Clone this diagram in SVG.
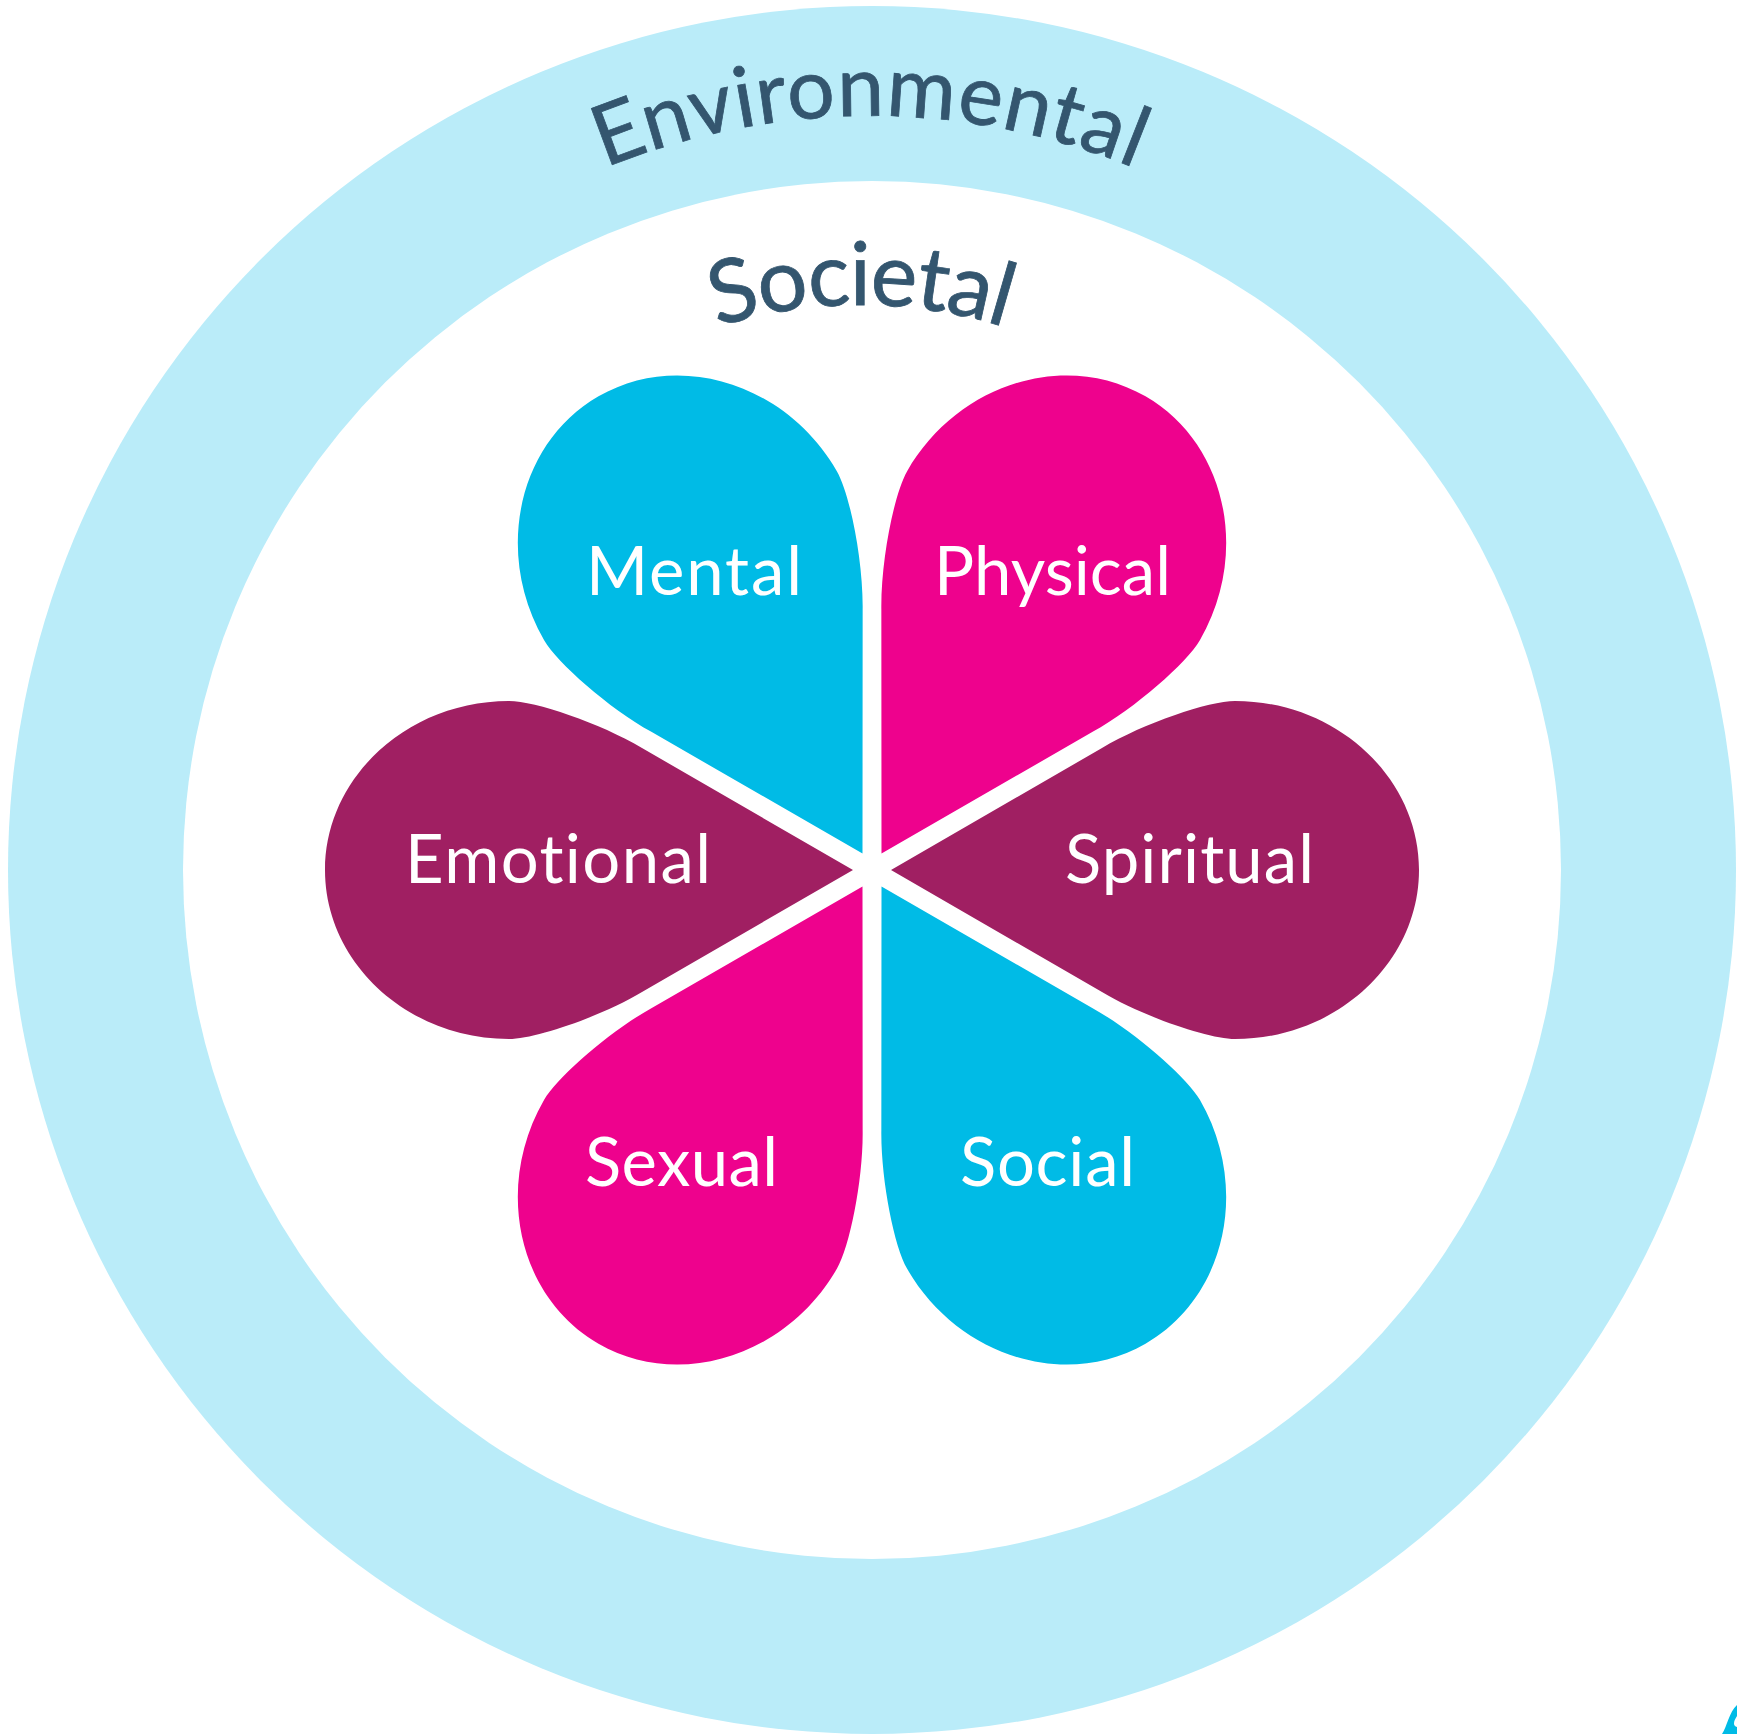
<svg xmlns="http://www.w3.org/2000/svg" width="1737" height="1734" viewBox="0 0 1737 1734">
<style>
text{font-variant-ligatures:none}
.lbl{font-family:Lato,"Liberation Sans",sans-serif;font-size:67px;fill:#fff}
.arc{font-family:Lato,"Liberation Sans",sans-serif;font-size:84px;fill:#34566f;stroke:#34566f;stroke-width:.8px}
.blue{fill:#00bbe6}.pink{fill:#ee028d}.plum{fill:#a01f62}
</style>
<defs>
<path id="petal" d="M853 870L642 748C600 723 535 701 509 701C408 701 325 777 325 870C325 963 408 1039 509 1039C535 1039 600 1017 642 992Z"/>
<path id="envArc" d="M170 816A700 700 0 0 1 1570 816"/>
<path id="socArc" d="M381 785A480 480 0 0 1 1341 785"/>
</defs>
<rect width="1737" height="1734" fill="#fff"/>
<g id="environmental">
<circle cx="872" cy="870" r="864" fill="#baecf9"/>
<circle cx="872" cy="870" r="689" fill="#fff"/>
<text class="arc"><textPath href="#envArc" startOffset="50%" text-anchor="middle" textLength="543" lengthAdjust="spacing">Environmental</textPath></text>
</g>
<g id="societal">
<text class="arc" style="font-size:88px"><textPath href="#socArc" startOffset="50%" text-anchor="middle" textLength="292" lengthAdjust="spacing">Societal</textPath></text>
</g>
<g id="emotional"><use href="#petal" class="plum"/><text class="lbl" x="405" y="883" textLength="306" lengthAdjust="spacing">Emotional</text></g>
<g id="mental"><use href="#petal" class="blue" transform="rotate(60 872 870)"/><text class="lbl" x="586" y="595" textLength="216" lengthAdjust="spacing">Mental</text></g>
<g id="physical"><use href="#petal" class="pink" transform="rotate(120 872 870)"/><text class="lbl" x="934" y="595" textLength="237" lengthAdjust="spacing">Physical</text></g>
<g id="spiritual"><use href="#petal" class="plum" transform="rotate(180 872 870)"/><text class="lbl" x="1065" y="883" textLength="249" lengthAdjust="spacing">Spiritual</text></g>
<g id="social"><use href="#petal" class="blue" transform="rotate(240 872 870)"/><text class="lbl" x="960" y="1186" textLength="175" lengthAdjust="spacing">Social</text></g>
<g id="sexual"><use href="#petal" class="pink" transform="rotate(300 872 870)"/><text class="lbl" x="585" y="1186" textLength="193" lengthAdjust="spacing">Sexual</text></g>
<path id="corner-mark" class="blue" d="M1722 1734C1727 1727 1729 1712 1737 1705V1716C1733 1722 1733 1726 1737 1727V1734Z"/>
</svg>
